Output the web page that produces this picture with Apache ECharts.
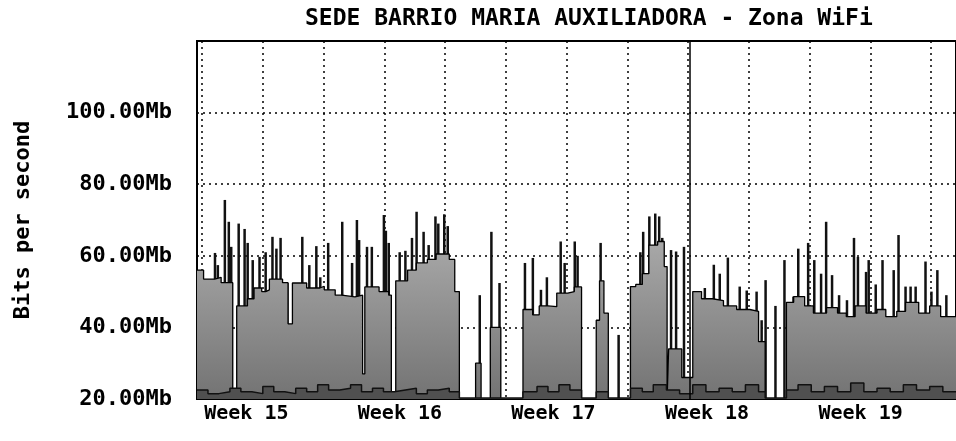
<!DOCTYPE html>
<html>
<head>
<meta charset="utf-8">
<script src="https://cdn.jsdelivr.net/npm/echarts@6/dist/echarts.min.js"></script>
<style>
  html, body { margin: 0; padding: 0; background: #fff; }
  #chart { width: 956px; height: 441px; }
</style>
</head>
<body>
<div id="chart"></div>
<script>
// labels
var chartTitle = 'SEDE BARRIO MARIA AUXILIADORA - Zona WiFi';
var yName = 'Bits per second';
var weekNames = ['Week 15', 'Week 16', 'Week 17', 'Week 18', 'Week 19'];
var weekCenters = [2.25, 9.25, 16.25, 23.25, 30.25];   // days from left edge
var markerDay = 22.48;                                   // solid vertical line

// inbound traffic, block level (Mb) - [day, value]
var inBase = [
  [0, 56], [0.3, 53.5], [0.8, 54], [1.1, 52.5], [1.63, 20], [1.81, 46], [2.3, 48], [2.6, 51], [2.95, 50],
  [3.13, 50.5], [3.3, 53.5], [3.9, 52.5], [4.15, 41], [4.35, 52.4], [5.0, 51], [5.6, 51.5],
  [5.8, 50.5], [6.3, 49], [6.6, 48.5], [7.2, 49], [7.55, 27], [7.65, 51.3], [8.3, 50], [8.74, 49], [8.86, 20],
  [9.06, 53], [9.6, 56], [10.0, 58], [10.5, 59], [10.9, 60.5], [11.5, 59], [11.75, 50], [11.96, 20],
  [12.7, 30], [12.95, 20], [13.37, 40], [13.85, 20],
  [14.86, 45], [15.3, 43.5], [15.6, 46], [16.0, 45.8], [16.4, 49.6], [16.9, 50], [17.2, 51.3], [17.53, 20],
  [18.2, 42], [18.35, 53], [18.55, 44], [18.75, 20],
  [19.76, 51.4], [20.0, 52], [20.3, 55], [20.6, 63], [21.0, 64], [21.3, 57], [21.43, 20], [21.5, 34], [22.1, 26],
  [22.6, 50], [23.0, 48], [23.5, 47.5], [24.0, 46], [24.6, 45], [25.2, 44.5], [25.6, 36], [25.9, 20],
  [26.87, 47], [27.2, 48.6], [27.7, 46], [28.1, 44], [28.7, 45.5], [29.2, 44], [29.6, 43], [30.0, 46],
  [30.5, 44], [31.0, 45], [31.4, 43], [31.9, 44.5], [32.3, 47], [32.9, 44], [33.4, 46], [33.9, 43], [34.6, 43]
];

// inbound peaks (Mb)
var inPeaks = [
  [0.82, 60.8], [0.95, 57.4], [1.27, 75.6], [1.45, 69.5], [1.56, 62.5],
  [1.90, 69], [2.17, 67.5], [2.31, 63.6], [2.54, 58.8], [2.85, 59.7],
  [3.13, 61], [3.44, 65.3], [3.62, 62], [3.81, 65], [4.12, 52.4],
  [4.80, 65.3], [5.12, 57.4], [5.44, 62.7], [5.62, 54],
  [5.98, 63.6], [6.62, 69.5], [7.07, 58], [7.29, 70], [7.39, 64.4],
  [7.75, 62.5], [7.97, 62.5], [8.52, 71.4], [8.61, 67], [8.74, 63.6],
  [9.24, 61], [9.5, 61.4], [9.8, 65], [10.01, 72.3], [10.33, 66.7], [10.56, 63], [10.87, 71], [11.0, 69], [11.27, 71.6], [11.43, 68.3],
  [12.89, 49], [13.42, 66.7], [13.79, 52.4],
  [14.95, 58], [15.31, 59.4], [15.68, 50.5], [15.95, 54], [16.58, 64], [16.76, 58], [17.22, 64], [17.35, 60],
  [18.40, 63.6], [19.22, 37.9],
  [20.21, 61], [20.34, 66.7], [20.62, 71], [20.89, 71.8], [21.07, 71], [21.21, 65], [21.61, 61.6], [21.84, 61.2], [22.20, 62.5],
  [23.15, 51], [23.56, 57.5], [23.83, 55], [24.20, 59.5], [24.74, 51.4], [25.06, 50.3], [25.51, 50], [25.74, 42], [25.92, 53.2],
  [26.37, 46], [26.78, 58.8], [27.19, 48.6], [27.41, 62], [27.86, 63.6], [28.14, 58.8], [28.45, 55], [28.68, 69.5], [28.95, 54.6],
  [29.27, 49], [29.63, 47.6], [29.95, 65], [30.13, 59.7], [30.50, 55.5], [30.62, 58.8], [30.94, 52], [31.25, 58.8], [31.76, 56], [31.98, 65.8],
  [32.30, 51.4], [32.53, 51.4], [32.76, 51.4], [33.21, 58.4], [33.48, 50], [33.75, 56], [34.16, 49]
];

// outbound traffic (Mb)
var outTraffic = [
  [0, 22.5], [0.5, 21.5], [1.0, 22], [1.5, 23], [2.0, 22], [2.5, 21.5], [3.0, 23.5], [3.5, 22], [4.0, 21.5],
  [4.5, 23], [5.0, 22], [5.5, 24], [6.0, 22.5], [6.5, 23], [7.0, 24], [7.5, 22], [8.0, 23], [8.5, 22],
  [9.0, 22.5], [9.5, 23], [10.0, 21.5], [10.5, 22.5], [11.0, 23], [11.5, 22], [11.96, 20.3],
  [14.86, 22], [15.5, 23.5], [16.0, 22], [16.5, 24], [17.0, 22.5], [17.53, 20.3], [18.2, 22], [18.75, 20.3],
  [19.76, 23], [20.3, 22], [20.8, 24], [21.4, 22.5], [22.0, 21.5], [22.6, 24], [23.2, 22], [23.8, 23],
  [24.4, 22], [25.0, 24], [25.6, 22], [25.9, 20.3], [26.87, 22.5], [27.4, 24], [28.0, 22], [28.6, 23.5],
  [29.2, 22], [29.8, 24.5], [30.4, 22], [31.0, 23], [31.6, 22], [32.2, 24], [32.8, 22.5], [33.4, 23.5],
  [34.0, 22], [34.6, 22]
];

var monoFont = 'DejaVu Sans Mono';
var chart = echarts.init(document.getElementById('chart'));

chart.setOption({
  animation: false,
  backgroundColor: '#fff',
  title: {
    text: chartTitle,
    left: 300, top: 3,
    textStyle: { fontFamily: monoFont, fontSize: 23, fontWeight: 'bold', color: '#000' }
  },
  grid: [
    { left: 197, right: -3, top: 41, bottom: 42, show: true, borderColor: '#000', borderWidth: 2 },
    { left: 202, right: -3, top: 41, bottom: 42 }
  ],
  xAxis: [
    {
      type: 'value', gridIndex: 0, min: 0, max: 34.6,
      axisLine: { show: false }, axisTick: { show: false }, splitLine: { show: false },
      axisLabel: {
        customValues: weekCenters,
        margin: 5,
        fontFamily: monoFont, fontSize: 20, fontWeight: 'bold', color: '#000',
        formatter: function (v) { return weekNames[weekCenters.indexOf(v)]; }
      }
    },
    {
      type: 'value', gridIndex: 1, min: 0, max: 12.41, interval: 1,
      axisLine: { show: false }, axisTick: { show: false }, axisLabel: { show: false },
      splitLine: { show: true, lineStyle: { color: '#000', width: 1.5, type: [2, 4] } }
    }
  ],
  yAxis: [
    {
      type: 'value', gridIndex: 0, min: 20, max: 120, interval: 20,
      name: yName, nameLocation: 'middle', nameGap: 163,
      nameTextStyle: { fontFamily: monoFont, fontSize: 22, fontWeight: 'bold', color: '#000' },
      axisLine: { show: false }, axisTick: { show: false },
      axisLabel: {
        margin: 25,
        fontFamily: monoFont, fontSize: 22, fontWeight: 'bold', color: '#000',
        formatter: function (v) { return v >= 120 ? '' : v.toFixed(2) + 'Mb'; }
      },
      splitLine: { show: true, lineStyle: { color: '#000', width: 1.5, type: [2, 4] } }
    },
    { type: 'value', gridIndex: 1, min: 0, max: 1, show: false }
  ],
  series: [
    {
      name: 'peaks', type: 'bar', xAxisIndex: 0, yAxisIndex: 0,
      data: inPeaks, barWidth: 2.5, z: 1,
      itemStyle: { color: '#111' }
    },
    {
      name: 'in', type: 'line', step: 'end', xAxisIndex: 0, yAxisIndex: 0,
      data: inBase, symbol: 'none', z: 3,
      lineStyle: { color: '#000', width: 1.3 },
      areaStyle: {
        opacity: 1,
        color: new echarts.graphic.LinearGradient(0, 0, 0, 1, [
          { offset: 0, color: '#a8a8a8' },
          { offset: 1, color: '#737373' }
        ])
      },
      markLine: {
        silent: true, symbol: 'none', label: { show: false },
        lineStyle: { color: '#000', width: 1.5, type: 'solid' },
        data: [{ xAxis: markerDay }]
      }
    },
    {
      name: 'out', type: 'line', step: 'end', xAxisIndex: 0, yAxisIndex: 0,
      data: outTraffic, symbol: 'none', z: 4,
      lineStyle: { color: '#111', width: 1.5 },
      areaStyle: { opacity: 1, color: '#505050' }
    }
  ]
});
</script>
</body>
</html>
